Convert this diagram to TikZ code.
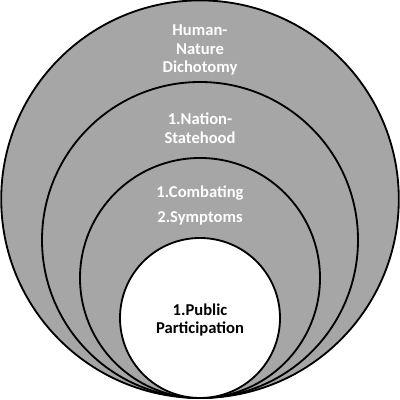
\documentclass[tikz,border=0pt]{standalone}
\usepackage{fontspec}
\setmainfont{Carlito}
\usepackage{tikz}

\definecolor{ringgray}{RGB}{166,166,166}

\tikzset{
	ring/.style={draw=black, line width=1.3pt, fill=ringgray},
	core/.style={draw=black, line width=1.3pt, fill=white},
	lighttext/.style={text=white, font=\bfseries\fontsize{11.8}{13.2}\selectfont, align=center},
	darktext/.style={text=black, font=\bfseries\fontsize{11.8}{13.2}\selectfont, align=center}
}

\begin{document}
\begin{tikzpicture}
		\useasboundingbox (0,0) rectangle (10,10);
		%Mittelpunkte der Kreise
		\coordinate (O1) at (5,5.02);
		\coordinate (O2) at (5,4.0);
		\coordinate (O3) at (5,3.05);
		\coordinate (O4) at (5,2.05);
		
		\draw[ring] (O1) circle (4.97);
		\draw[ring] (O2) circle (3.95);
		\draw[ring] (O3) circle (3.0);
		\draw[core] (O4) circle (2.0);
		
		%Beschriftung
		\node[lighttext] (dichotomy) at (5,8.75) {Human-\\Nature\\Dichotomy};
		\node[lighttext] (nation) at (5,6.8) {1.Nation-\\Statehood};
		\node[lighttext] (combating) at (5,5.17) {1.Combating};
		\node[lighttext] (symptoms) at (5,4.55) {2.Symptoms};
		\node[darktext] (public) at (5,2.0) {1.Public\\Participation};
		
		\end{tikzpicture}
\end{document}
